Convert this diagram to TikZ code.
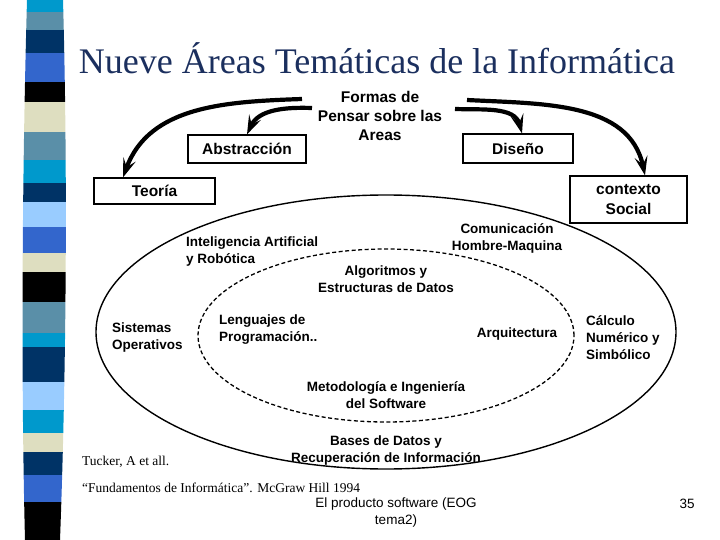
\documentclass[tikz,border=0pt]{standalone}
\usepackage{fontspec}
\setmainfont{Liberation Serif}
\setsansfont{Liberation Sans}
\usetikzlibrary{arrows.meta}

\definecolor{bandcyan}{HTML}{0099CC}
\definecolor{bandsteel}{HTML}{5A8FA8}
\definecolor{bandnavy}{HTML}{003366}
\definecolor{bandroyal}{HTML}{3366CC}
\definecolor{bandbeige}{HTML}{DEDEC0}
\definecolor{bandlight}{HTML}{99CCFF}
\definecolor{titlenavy}{HTML}{1B2F5E}

\begin{document}
\begin{tikzpicture}[>=Stealth, x=1pt, y=-1pt]

\useasboundingbox (0,0) rectangle (720,540);

\tikzset{
  title/.style={
    text=titlenavy,
    inner sep=0pt,
    font=\rmfamily\fontsize{36}{40}\selectfont
  },
  way/.style={
    draw,
    line width=1.2pt,
    align=center,
    inner sep=0pt,
    font=\sffamily\bfseries\fontsize{15.5}{20}\selectfont
  },
  think/.style={
    align=center,
    inner sep=0pt,
    font=\sffamily\bfseries\fontsize{15.5}{19}\selectfont
  },
  area/.style={
    align=center,
    inner sep=0pt,
    font=\sffamily\bfseries\fontsize{13.5}{17}\selectfont
  },
  arealeft/.style={
    area,
    align=left,
    anchor=west
  },
  cite/.style={
    anchor=west,
    inner sep=0pt,
    font=\rmfamily\fontsize{13.5}{15}\selectfont
  },
  foot/.style={
    align=center,
    inner sep=0pt,
    font=\sffamily\fontsize{13.5}{17}\selectfont
  },
  bendarrow/.style={
    ->,
    line width=4.2pt,
    >={Stealth[length=19pt,width=13pt,inset=8pt]}
  }
}

% striped band on the left
\begin{scope}
  \clip (27,0) .. controls (22,180) and (21,380) .. (25,540)
     -- (60,540) .. controls (66,380) and (68,180) .. (63,0) -- cycle;
  \foreach \ya/\yb/\col in {0/12/bandcyan, 12/30/bandsteel, 30/53/bandnavy,
      53/82/bandroyal, 82/102/black, 102/132/bandbeige, 132/160/bandsteel,
      160/183/bandcyan, 183/202/bandnavy, 202/227/bandlight, 227/253/bandroyal,
      253/272/bandbeige, 272/302/black, 302/333/bandsteel, 333/347/bandcyan,
      347/382/bandnavy, 382/410/bandlight, 410/433/bandcyan, 433/452/bandbeige,
      452/475/bandnavy, 475/502/bandroyal, 502/540/black} {
    \fill[\col] (0,\ya) rectangle (80,\yb);
  }
\end{scope}

\node[title] (title) at (377,58) {Nueve Áreas Temáticas de la Informática};

% the ways of thinking
\node[think] (formas) at (380,116) {Formas de\\Pensar sobre las\\Areas};

\node[way, minimum width=118pt, minimum height=28pt] (abstr)  at (247,149)   {Abstracción};
\node[way, minimum width=110pt, minimum height=29pt] (diseno) at (518,148.5) {Diseño};
\node[way, minimum width=121pt, minimum height=26pt] (teoria) at (154.5,191) {Teoría};
\node[way, minimum width=117pt, minimum height=47pt] (ctx)    at (628.5,199.5) {contexto\\Social};

\coordinate (f-out-l) at (302,99);
\coordinate (f-in-l)  at (312,108);
\coordinate (f-in-r)  at (455,109);
\coordinate (f-out-r) at (467,100);

% the two ellipses of areas
\draw[line width=1.4pt] (386,332) ellipse [x radius=290pt, y radius=137pt];
\draw[line width=1.3pt, dash pattern=on 4pt off 2.5pt] (386,335.5) ellipse [x radius=188pt, y radius=86.5pt];

\node[arealeft] (ia)   at (186,252)   {Inteligencia Artificial\\y Robótica};
\node[area]     (hm)   at (507,238.5) {Comunicación\\Hombre-Maquina};
\node[area]     (algo) at (386,279.5) {Algoritmos y\\Estructuras de Datos};
\node[arealeft] (so)   at (112,338)   {Sistemas\\Operativos};
\node[arealeft] (leng) at (219,329.5) {Lenguajes de\\Programación..};
\node[area]     (arq)  at (517,334)   {Arquitectura};
\node[arealeft] (calc) at (586,338)   {Cálculo\\Numérico y\\Simbólico};
\node[area]     (meto) at (386,395.5) {Metodología e Ingeniería\\del Software};
\node[area]     (bd)   at (386,450.5) {Bases de Datos y\\Recuperación de Información};

% references and footer
\node[cite] (tucker) at (82,462) {Tucker, A et all.};
\node[cite] (fund)   at (82,488) {“Fundamentos de Informática”. McGraw Hill 1994};
\node[foot] (prod)   at (396,512.5) {El producto software (EOG\\tema2)};
\node[foot] (page)   at (687,504) {35};

\draw[bendarrow] (f-out-l) to[out=182, in=70]  ([xshift=-31.5pt]teoria.north);
\draw[bendarrow] (f-in-l)  to[out=178, in=65]  (abstr.north);
\draw[bendarrow] (f-in-r)  to[out=-2,  in=105] ([xshift=4pt]diseno.north);
\draw[bendarrow] (f-out-r) to[out=-3,  in=102] ([xshift=16.5pt]ctx.north);

\end{tikzpicture}
\end{document}
